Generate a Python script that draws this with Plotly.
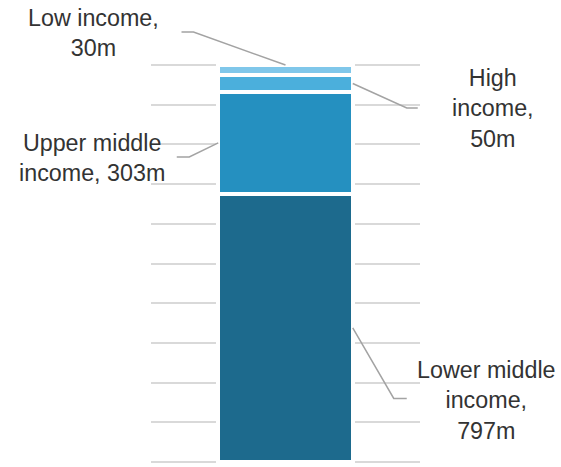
import plotly.graph_objects as go

# ---- data ----
categories = ["Lower middle income", "Upper middle income", "High income", "Low income"]
values = [797, 303, 50, 30]
labels = ["Lower middle<br>income,<br>797m", "Upper middle<br>income, 303m",
          "High<br>income,<br>50m", "Low income,<br>30m"]
colors = ["#1d6a8d", "#2590c0", "#4bafdc", "#80c7ea"]

W, H = 561, 467
ML, MR, MT, MB = 151, 141, 64, 4
YR = [-3, 1183]
XR = [-0.5, 0.5]
PW = W - ML - MR
PH = H - MT - MB

fig = go.Figure()
for name, v, c in zip(categories, values, colors):
    fig.add_trace(go.Bar(x=[0], y=[v], name=name, width=0.5,
                         marker=dict(color=c, line=dict(color="white", width=4)),
                         hoverinfo="name+y"))

# cumulative positions
cum = []
s = 0
for v in values:
    cum.append((s, s + v))
    s += v
total = s

def d2p(x, y):
    return (x - XR[0]) / (XR[1] - XR[0]), (y - YR[0]) / (YR[1] - YR[0])

def leader(x0, y0, segs):
    px0, py0 = d2p(x0, y0)
    pts = [(px0, py0)]
    for (dx, dy) in segs:
        pts.append((px0 + dx / PW, py0 + dy / PH))
    path = "M " + " L ".join(f"{a:.5f},{b:.5f}" for a, b in pts)
    fig.add_shape(type="path", path=path, xref="paper", yref="paper",
                  line=dict(color="#a3a3a3", width=1.5))

mid = [(a + b) / 2 for a, b in cum]
leader(0.25, mid[0], [(41, -70.5), (54, -70.5)])
leader(-0.25, mid[1], [(-29, -14), (-41.5, -14)])
leader(0.25, mid[2], [(54, -24.5), (65, -24.5)])
leader(0.0, total, [(-92, 33), (-104, 33)])

def px2paper(px, py):
    return (px - ML) / PW, (H - MB - py) / PH

ann_pos = [(486.7, 400), (91.5, 158), (493, 108), (93, 33)]
for lab, (px, py) in zip(labels, ann_pos):
    xp, yp = px2paper(px, py)
    fig.add_annotation(x=xp, y=yp, xref="paper", yref="paper", text=lab,
                       showarrow=False, xanchor="center", yanchor="middle",
                       align="center",
                       font=dict(family="Liberation Sans, Arial, sans-serif",
                                 size=23.3, color="#333333"))

fig.update_layout(
    width=W, height=H,
    margin=dict(l=ML, r=MR, t=MT, b=MB, pad=0),
    barmode="stack",
    showlegend=False,
    plot_bgcolor="white",
    paper_bgcolor="white",
    xaxis=dict(range=XR, showgrid=False, zeroline=False, showticklabels=False,
               showline=False, fixedrange=True),
    yaxis=dict(range=YR, tick0=0, dtick=118, showgrid=True, gridcolor="#d9d9d9",
               gridwidth=1.5, zeroline=True, zerolinecolor="#d9d9d9",
               zerolinewidth=1.5, showticklabels=False, showline=False,
               fixedrange=True),
)

fig.write_html("out.html")
